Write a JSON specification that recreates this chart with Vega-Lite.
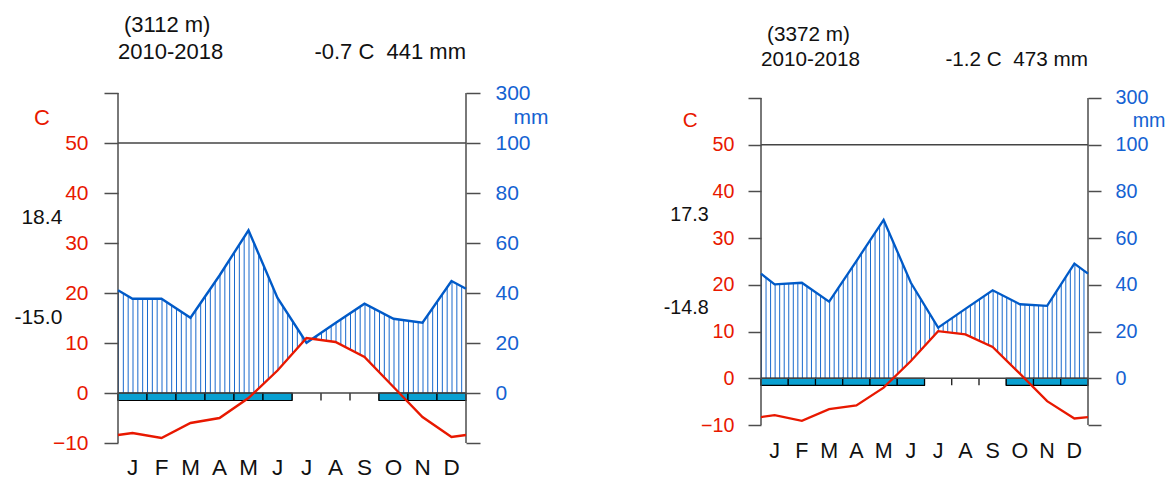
{
  "$schema": "https://vega.github.io/schema/vega-lite/v6.json",
  "background": "white",
  "padding": {"left": 14, "top": 13, "right": 0, "bottom": 0},
  "spacing": 114,
  "config": {
    "view": {"stroke": null},
    "font": "Liberation Sans",
    "axisX": {"disable": true},
    "axis": {"grid": false, "domain": false, "tickColor": "#4d4d4d", "tickWidth": 1.5, "labelFlush": false, "labelOverlap": false, "title": null}
  },
  "datasets": {
    "one": [{}],
    "s1": [
      {"month": "Dec/Jan", "pos": 0, "t": -8.4, "p": 41.1},
      {"month": "Jan", "pos": 0.5, "t": -8.0, "p": 37.7},
      {"month": "Feb", "pos": 1.5, "t": -9.0, "p": 37.7},
      {"month": "Mar", "pos": 2.5, "t": -6.0, "p": 30.1},
      {"month": "Apr", "pos": 3.5, "t": -5.0, "p": 47.0},
      {"month": "May", "pos": 4.5, "t": -1.0, "p": 65.1},
      {"month": "Jun", "pos": 5.5, "t": 4.5, "p": 38.0},
      {"month": "Jul", "pos": 6.5, "t": 11.0, "p": 20.1},
      {"month": "Aug", "pos": 7.5, "t": 10.2, "p": 28.0},
      {"month": "Sep", "pos": 8.5, "t": 7.2, "p": 35.7},
      {"month": "Oct", "pos": 9.5, "t": 1.2, "p": 29.7},
      {"month": "Nov", "pos": 10.5, "t": -4.8, "p": 28.1},
      {"month": "Dec", "pos": 11.5, "t": -8.8, "p": 44.8},
      {"month": "Dec/Jan", "pos": 12, "t": -8.4, "p": 41.7}
    ],
    "s2": [
      {"month": "Dec/Jan", "pos": 0, "t": -8.3, "p": 44.8},
      {"month": "Jan", "pos": 0.5, "t": -7.9, "p": 40.2},
      {"month": "Feb", "pos": 1.5, "t": -9.1, "p": 40.9},
      {"month": "Mar", "pos": 2.5, "t": -6.6, "p": 32.8},
      {"month": "Apr", "pos": 3.5, "t": -5.8, "p": 50.2},
      {"month": "May", "pos": 4.5, "t": -2.0, "p": 67.8},
      {"month": "Jun", "pos": 5.5, "t": 3.7, "p": 40.9},
      {"month": "Jul", "pos": 6.5, "t": 10.1, "p": 21.7},
      {"month": "Aug", "pos": 7.5, "t": 9.4, "p": 29.7},
      {"month": "Sep", "pos": 8.5, "t": 6.7, "p": 37.7},
      {"month": "Oct", "pos": 9.5, "t": 1.0, "p": 31.7},
      {"month": "Nov", "pos": 10.5, "t": -4.9, "p": 31.0},
      {"month": "Dec", "pos": 11.5, "t": -8.6, "p": 49.1},
      {"month": "Dec/Jan", "pos": 12, "t": -8.3, "p": 44.8}
    ],
    "frost": [
      {"month": "Jan", "letter": "J", "start": 0, "mid": 0.5, "end": 1, "frost": true},
      {"month": "Feb", "letter": "F", "start": 1, "mid": 1.5, "end": 2, "frost": true},
      {"month": "Mar", "letter": "M", "start": 2, "mid": 2.5, "end": 3, "frost": true},
      {"month": "Apr", "letter": "A", "start": 3, "mid": 3.5, "end": 4, "frost": true},
      {"month": "May", "letter": "M", "start": 4, "mid": 4.5, "end": 5, "frost": true},
      {"month": "Jun", "letter": "J", "start": 5, "mid": 5.5, "end": 6, "frost": true},
      {"month": "Jul", "letter": "J", "start": 6, "mid": 6.5, "end": 7, "frost": false},
      {"month": "Aug", "letter": "A", "start": 7, "mid": 7.5, "end": 8, "frost": false},
      {"month": "Sep", "letter": "S", "start": 8, "mid": 8.5, "end": 9, "frost": false},
      {"month": "Oct", "letter": "O", "start": 9, "mid": 9.5, "end": 10, "frost": true},
      {"month": "Nov", "letter": "N", "start": 10, "mid": 10.5, "end": 11, "frost": true},
      {"month": "Dec", "letter": "D", "start": 11, "mid": 11.5, "end": 12, "frost": true}
    ]
  },
  "hconcat": [
    {
      "width": 348,
      "height": 350,
      "resolve": {"scale": {"y": "independent"}, "axis": {"y": "independent"}},
      "layer": [
        {
          "data": {"name": "one"},
          "mark": {"type": "rule", "clip": true, "stroke": "#005ac8", "strokeWidth": 225, "strokeDash": [1, 3.8333], "strokeOpacity": 0.9},
          "encoding": {
            "x": {"datum": 0, "type": "quantitative", "scale": {"domain": [0, 12], "nice": false, "zero": false}},
            "x2": {"datum": 12},
            "y": {"datum": 45, "type": "quantitative", "scale": {"domain": [-20, 120], "nice": false, "zero": false}, "axis": null}
          }
        },
        {
          "data": {"name": "s1"},
          "mark": {"type": "area", "fill": "white"},
          "encoding": {
            "x": {"field": "pos", "type": "quantitative"},
            "y": {"field": "p", "type": "quantitative", "scale": {"domain": [-20, 120], "nice": false, "zero": false}, "axis": null},
            "y2": {"datum": 90}
          }
        },
        {
          "data": {"name": "s1"},
          "mark": {"type": "area", "fill": "white"},
          "encoding": {
            "x": {"field": "pos", "type": "quantitative"},
            "y": {"field": "t", "type": "quantitative", "scale": {"domain": [-10, 60], "nice": false, "zero": false}, "axis": null},
            "y2": {"datum": 0}
          }
        },
        {
          "data": {"name": "frost"},
          "mark": {"type": "rule", "stroke": "black", "strokeWidth": 1.2},
          "encoding": {
            "x": {"field": "start", "type": "quantitative"},
            "y": {"datum": 0, "type": "quantitative", "scale": {"domain": [-10, 60], "nice": false, "zero": false}, "axis": null},
            "y2": {"datum": -1.5}
          }
        },
        {
          "data": {"name": "frost"},
          "transform": [{"filter": {"field": "frost", "equal": true}}],
          "mark": {"type": "rect", "fill": "#09a0d1", "stroke": "black", "strokeWidth": 1.2},
          "encoding": {
            "x": {"field": "start", "type": "quantitative"},
            "x2": {"field": "end"},
            "y": {"datum": 0, "type": "quantitative", "scale": {"domain": [-10, 60], "nice": false, "zero": false}, "axis": null},
            "y2": {"datum": -1.5}
          }
        },
        {
          "data": {"name": "frost"},
          "mark": {"type": "text", "align": "center", "baseline": "alphabetic", "fontSize": 22.5, "fill": "#111"},
          "encoding": {
            "x": {"field": "mid", "type": "quantitative"},
            "y": {"datum": -16.4, "type": "quantitative", "scale": {"domain": [-10, 60], "nice": false, "zero": false}, "axis": null},
            "text": {"field": "letter"}
          }
        },
        {
          "data": {"name": "one"},
          "mark": {"type": "rule", "stroke": "#444", "strokeWidth": 1.4},
          "encoding": {
            "x": {"datum": 0, "type": "quantitative"},
            "x2": {"datum": 12},
            "y": {"datum": 0, "type": "quantitative", "scale": {"domain": [-10, 60], "nice": false, "zero": false}, "axis": null}
          }
        },
        {
          "data": {"name": "one"},
          "mark": {"type": "rule", "stroke": "#444", "strokeWidth": 1.4},
          "encoding": {
            "x": {"datum": 0, "type": "quantitative"},
            "x2": {"datum": 12},
            "y": {"datum": 50, "type": "quantitative", "scale": {"domain": [-10, 60], "nice": false, "zero": false}, "axis": null}
          }
        },
        {
          "data": {"name": "one"},
          "mark": {"type": "rule", "stroke": "#4d4d4d", "strokeWidth": 1.5},
          "encoding": {
            "x": {"datum": 0, "type": "quantitative"},
            "y": {"datum": -10, "type": "quantitative", "scale": {"domain": [-10, 60], "nice": false, "zero": false}, "axis": null},
            "y2": {"datum": 60}
          }
        },
        {
          "data": {"name": "one"},
          "mark": {"type": "rule", "stroke": "#4d4d4d", "strokeWidth": 1.5},
          "encoding": {
            "x": {"datum": 12, "type": "quantitative"},
            "y": {"datum": -10, "type": "quantitative", "scale": {"domain": [-10, 60], "nice": false, "zero": false}, "axis": null},
            "y2": {"datum": 60}
          }
        },
        {
          "data": {"name": "s1"},
          "mark": {"type": "line", "stroke": "#005ac8", "strokeWidth": 2.4},
          "encoding": {
            "x": {"field": "pos", "type": "quantitative"},
            "y": {"field": "p", "type": "quantitative", "scale": {"domain": [-20, 120], "nice": false, "zero": false},
              "axis": {"orient": "right", "values": [-20, 0, 20, 40, 60, 80, 100, 120],
                "labelExpr": "datum.value == -20 ? '' : datum.value == 120 ? '300' : datum.label",
                "tickSize": 14, "labelPadding": 15, "labelFontSize": 21, "labelColor": "#1462d2", "zindex": 1, "title": null}}
          }
        },
        {
          "data": {"name": "s1"},
          "mark": {"type": "line", "stroke": "#e81800", "strokeWidth": 2.4},
          "encoding": {
            "x": {"field": "pos", "type": "quantitative"},
            "y": {"field": "t", "type": "quantitative", "scale": {"domain": [-10, 60], "nice": false, "zero": false},
              "axis": {"orient": "left", "values": [-10, 0, 10, 20, 30, 40, 50, 60],
                "labelExpr": "datum.value == 60 ? '' : datum.label",
                "tickSize": 14, "labelPadding": 16, "labelFontSize": 21, "labelColor": "#e81800", "zindex": 1, "title": null}}
          }
        },
        {
          "data": {"name": "one"},
          "mark": {"type": "text", "text": "C", "align": "center", "baseline": "middle", "fontSize": 22, "fill": "#e81800"},
          "encoding": {
            "x": {"datum": -2.62, "type": "quantitative"},
            "y": {"datum": 55, "type": "quantitative", "scale": {"domain": [-10, 60], "nice": false, "zero": false}, "axis": null}
          }
        },
        {
          "data": {"name": "one"},
          "mark": {"type": "text", "text": "mm", "align": "center", "baseline": "middle", "fontSize": 21, "fill": "#1462d2"},
          "encoding": {
            "x": {"datum": 14.24, "type": "quantitative"},
            "y": {"datum": 55, "type": "quantitative", "scale": {"domain": [-10, 60], "nice": false, "zero": false}, "axis": null}
          }
        },
        {
          "data": {"name": "one"},
          "mark": {"type": "text", "text": "18.4", "align": "right", "baseline": "middle", "fontSize": 21, "fill": "#111"},
          "encoding": {
            "x": {"datum": -1.92, "type": "quantitative"},
            "y": {"datum": 35, "type": "quantitative", "scale": {"domain": [-10, 60], "nice": false, "zero": false}, "axis": null}
          }
        },
        {
          "data": {"name": "one"},
          "mark": {"type": "text", "text": "-15.0", "align": "right", "baseline": "middle", "fontSize": 21, "fill": "#111"},
          "encoding": {
            "x": {"datum": -1.92, "type": "quantitative"},
            "y": {"datum": 15, "type": "quantitative", "scale": {"domain": [-10, 60], "nice": false, "zero": false}, "axis": null}
          }
        },
        {
          "data": {"name": "one"},
          "mark": {"type": "text", "text": "(3112 m)", "align": "left", "baseline": "alphabetic", "dx": 6, "fontSize": 22, "fill": "#111"},
          "encoding": {
            "x": {"datum": 0, "type": "quantitative"},
            "y": {"datum": 72.2, "type": "quantitative", "scale": {"domain": [-10, 60], "nice": false, "zero": false}, "axis": null}
          }
        },
        {
          "data": {"name": "one"},
          "mark": {"type": "text", "text": "2010-2018", "align": "left", "baseline": "alphabetic", "fontSize": 22, "fill": "#111"},
          "encoding": {
            "x": {"datum": 0, "type": "quantitative"},
            "y": {"datum": 66.9, "type": "quantitative", "scale": {"domain": [-10, 60], "nice": false, "zero": false}, "axis": null}
          }
        },
        {
          "data": {"name": "one"},
          "mark": {"type": "text", "text": "-0.7 C\u00a0 441 mm", "align": "right", "baseline": "alphabetic", "fontSize": 22, "fill": "#111"},
          "encoding": {
            "x": {"datum": 12, "type": "quantitative"},
            "y": {"datum": 66.9, "type": "quantitative", "scale": {"domain": [-10, 60], "nice": false, "zero": false}, "axis": null}
          }
        }
      ]
    },
    {
      "width": 327,
      "height": 332,
      "resolve": {"scale": {"y": "independent"}, "axis": {"y": "independent"}},
      "layer": [
        {
          "data": {"name": "one"},
          "mark": {"type": "rule", "clip": true, "stroke": "#005ac8", "strokeWidth": 210.2, "strokeDash": [1, 3.5417], "strokeOpacity": 0.9},
          "encoding": {
            "x": {"datum": 0, "type": "quantitative", "scale": {"domain": [0, 12], "nice": false, "zero": false}},
            "x2": {"datum": 12},
            "y": {"datum": 45, "type": "quantitative", "scale": {"domain": [-20, 122.14], "nice": false, "zero": false}, "axis": null}
          }
        },
        {
          "data": {"name": "s2"},
          "mark": {"type": "area", "fill": "white"},
          "encoding": {
            "x": {"field": "pos", "type": "quantitative"},
            "y": {"field": "p", "type": "quantitative", "scale": {"domain": [-20, 122.14], "nice": false, "zero": false}, "axis": null},
            "y2": {"datum": 90}
          }
        },
        {
          "data": {"name": "s2"},
          "mark": {"type": "area", "fill": "white"},
          "encoding": {
            "x": {"field": "pos", "type": "quantitative"},
            "y": {"field": "t", "type": "quantitative", "scale": {"domain": [-10, 61.07], "nice": false, "zero": false}, "axis": null},
            "y2": {"datum": 0}
          }
        },
        {
          "data": {"name": "frost"},
          "mark": {"type": "rule", "stroke": "black", "strokeWidth": 1.2},
          "encoding": {
            "x": {"field": "start", "type": "quantitative"},
            "y": {"datum": 0, "type": "quantitative", "scale": {"domain": [-10, 61.07], "nice": false, "zero": false}, "axis": null},
            "y2": {"datum": -1.5}
          }
        },
        {
          "data": {"name": "frost"},
          "transform": [{"filter": {"field": "frost", "equal": true}}],
          "mark": {"type": "rect", "fill": "#09a0d1", "stroke": "black", "strokeWidth": 1.2},
          "encoding": {
            "x": {"field": "start", "type": "quantitative"},
            "x2": {"field": "end"},
            "y": {"datum": 0, "type": "quantitative", "scale": {"domain": [-10, 61.07], "nice": false, "zero": false}, "axis": null},
            "y2": {"datum": -1.5}
          }
        },
        {
          "data": {"name": "frost"},
          "mark": {"type": "text", "align": "center", "baseline": "alphabetic", "fontSize": 21.5, "fill": "#111"},
          "encoding": {
            "x": {"field": "mid", "type": "quantitative"},
            "y": {"datum": -17.0, "type": "quantitative", "scale": {"domain": [-10, 61.07], "nice": false, "zero": false}, "axis": null},
            "text": {"field": "letter"}
          }
        },
        {
          "data": {"name": "one"},
          "mark": {"type": "rule", "stroke": "#444", "strokeWidth": 1.4},
          "encoding": {
            "x": {"datum": 0, "type": "quantitative"},
            "x2": {"datum": 12},
            "y": {"datum": 0, "type": "quantitative", "scale": {"domain": [-10, 61.07], "nice": false, "zero": false}, "axis": null}
          }
        },
        {
          "data": {"name": "one"},
          "mark": {"type": "rule", "stroke": "#444", "strokeWidth": 1.4},
          "encoding": {
            "x": {"datum": 0, "type": "quantitative"},
            "x2": {"datum": 12},
            "y": {"datum": 50, "type": "quantitative", "scale": {"domain": [-10, 61.07], "nice": false, "zero": false}, "axis": null}
          }
        },
        {
          "data": {"name": "one"},
          "mark": {"type": "rule", "stroke": "#4d4d4d", "strokeWidth": 1.5},
          "encoding": {
            "x": {"datum": 0, "type": "quantitative"},
            "y": {"datum": -10, "type": "quantitative", "scale": {"domain": [-10, 61.07], "nice": false, "zero": false}, "axis": null},
            "y2": {"datum": 60}
          }
        },
        {
          "data": {"name": "one"},
          "mark": {"type": "rule", "stroke": "#4d4d4d", "strokeWidth": 1.5},
          "encoding": {
            "x": {"datum": 12, "type": "quantitative"},
            "y": {"datum": -10, "type": "quantitative", "scale": {"domain": [-10, 61.07], "nice": false, "zero": false}, "axis": null},
            "y2": {"datum": 60}
          }
        },
        {
          "data": {"name": "s2"},
          "mark": {"type": "line", "stroke": "#005ac8", "strokeWidth": 2.3},
          "encoding": {
            "x": {"field": "pos", "type": "quantitative"},
            "y": {"field": "p", "type": "quantitative", "scale": {"domain": [-20, 122.14], "nice": false, "zero": false},
              "axis": {"orient": "right", "values": [-20, 0, 20, 40, 60, 80, 100, 120],
                "labelExpr": "datum.value == -20 ? '' : datum.value == 120 ? '300' : datum.label",
                "tickSize": 13, "labelPadding": 14, "labelFontSize": 19.7, "labelColor": "#1462d2", "zindex": 1, "title": null}}
          }
        },
        {
          "data": {"name": "s2"},
          "mark": {"type": "line", "stroke": "#e81800", "strokeWidth": 2.3},
          "encoding": {
            "x": {"field": "pos", "type": "quantitative"},
            "y": {"field": "t", "type": "quantitative", "scale": {"domain": [-10, 61.07], "nice": false, "zero": false},
              "axis": {"orient": "left", "values": [-10, 0, 10, 20, 30, 40, 50, 60],
                "labelExpr": "datum.value == 60 ? '' : datum.label",
                "tickSize": 13, "labelPadding": 14, "labelFontSize": 19.7, "labelColor": "#e81800", "zindex": 1, "title": null}}
          }
        },
        {
          "data": {"name": "one"},
          "mark": {"type": "text", "text": "C", "align": "center", "baseline": "middle", "fontSize": 20.7, "fill": "#e81800"},
          "encoding": {
            "x": {"datum": -2.6, "type": "quantitative"},
            "y": {"datum": 55, "type": "quantitative", "scale": {"domain": [-10, 61.07], "nice": false, "zero": false}, "axis": null}
          }
        },
        {
          "data": {"name": "one"},
          "mark": {"type": "text", "text": "mm", "align": "center", "baseline": "middle", "fontSize": 19.7, "fill": "#1462d2"},
          "encoding": {
            "x": {"datum": 14.24, "type": "quantitative"},
            "y": {"datum": 55, "type": "quantitative", "scale": {"domain": [-10, 61.07], "nice": false, "zero": false}, "axis": null}
          }
        },
        {
          "data": {"name": "one"},
          "mark": {"type": "text", "text": "17.3", "align": "right", "baseline": "middle", "fontSize": 19.7, "fill": "#111"},
          "encoding": {
            "x": {"datum": -1.92, "type": "quantitative"},
            "y": {"datum": 35, "type": "quantitative", "scale": {"domain": [-10, 61.07], "nice": false, "zero": false}, "axis": null}
          }
        },
        {
          "data": {"name": "one"},
          "mark": {"type": "text", "text": "-14.8", "align": "right", "baseline": "middle", "fontSize": 19.7, "fill": "#111"},
          "encoding": {
            "x": {"datum": -1.92, "type": "quantitative"},
            "y": {"datum": 15, "type": "quantitative", "scale": {"domain": [-10, 61.07], "nice": false, "zero": false}, "axis": null}
          }
        },
        {
          "data": {"name": "one"},
          "mark": {"type": "text", "text": "(3372 m)", "align": "left", "baseline": "alphabetic", "dx": 6, "fontSize": 20.7, "fill": "#111"},
          "encoding": {
            "x": {"datum": 0, "type": "quantitative"},
            "y": {"datum": 72.2, "type": "quantitative", "scale": {"domain": [-10, 61.07], "nice": false, "zero": false}, "axis": null}
          }
        },
        {
          "data": {"name": "one"},
          "mark": {"type": "text", "text": "2010-2018", "align": "left", "baseline": "alphabetic", "fontSize": 20.7, "fill": "#111"},
          "encoding": {
            "x": {"datum": 0, "type": "quantitative"},
            "y": {"datum": 66.9, "type": "quantitative", "scale": {"domain": [-10, 61.07], "nice": false, "zero": false}, "axis": null}
          }
        },
        {
          "data": {"name": "one"},
          "mark": {"type": "text", "text": "-1.2 C\u00a0 473 mm", "align": "right", "baseline": "alphabetic", "fontSize": 20.7, "fill": "#111"},
          "encoding": {
            "x": {"datum": 12, "type": "quantitative"},
            "y": {"datum": 66.9, "type": "quantitative", "scale": {"domain": [-10, 61.07], "nice": false, "zero": false}, "axis": null}
          }
        }
      ]
    }
  ]
}
